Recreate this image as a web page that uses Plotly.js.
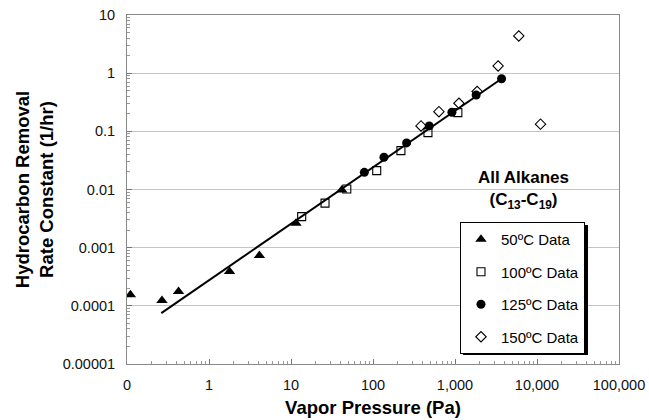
<!DOCTYPE html>
<html>
<head>
<meta charset="utf-8">
<script src="https://cdn.plot.ly/plotly-3.0.1.min.js"></script>
<style>html,body{margin:0;padding:0;background:#fff;}</style>
</head>
<body>
<div id="chart" style="width:649px;height:420px;"></div>
<script>
// Vapor pressure (Pa) and rate constant (1/hr)
const x50 = [0.11, 0.267, 0.425, 1.78, 4.12, 11.5, 41.6];
const y50 = [0.000155, 0.000123, 0.000176, 0.000388, 0.000731, 0.00264, 0.00984];

const x100 = [13.5, 26.0, 47.9, 111, 219, 468, 1084];
const y100 = [0.00342, 0.00582, 0.0102, 0.0211, 0.0466, 0.095, 0.21];

const x125 = [78.4, 136, 257, 485, 917, 1811, 3698];
const y125 = [0.0197, 0.0359, 0.0632, 0.124, 0.213, 0.422, 0.80];

const x150 = [385, 637, 1117, 1862, 3356, 6000, 11040];
const y150 = [0.124, 0.218, 0.304, 0.485, 1.33, 4.36, 0.133];

// fitted trend line end points
const xFit = [0.262, 3698];
const yFit = [0.000075, 0.80];

const xTickVals = [0.1, 1, 10, 100, 1000, 10000, 100000];
const xTickText = ["0", "1", "10", "100", "1,000", "10,000", "100,000"];
const yTickVals = [0.00001, 0.0001, 0.001, 0.01, 0.1, 1, 10];
const yTickText = ["0.00001", "0.0001", "0.001", "0.01", "0.1", "1", "10"];

const seriesNames = ["50\u00baC Data", "100\u00baC Data", "125\u00baC Data", "150\u00baC Data"];

const FONT = "Liberation Sans, Arial, sans-serif";

const traces = [
  {x: xFit, y: yFit, mode: "lines", line: {color: "#000", width: 2}, showlegend: false, hoverinfo: "skip"},
  {x: x50, y: y50, mode: "markers", name: seriesNames[0], legendgroup: "a",
   marker: {symbol: "triangle-up", size: 10, color: "#000"}},
  {x: x100, y: y100, mode: "markers", name: seriesNames[1], legendgroup: "b",
   marker: {symbol: "square-open", size: 8, color: "#000", line: {width: 1.1}}},
  {x: x125, y: y125, mode: "markers", name: seriesNames[2], legendgroup: "c",
   marker: {symbol: "circle", size: 9, color: "#000"}},
  {x: x150, y: y150, mode: "markers", name: seriesNames[3], legendgroup: "d",
   marker: {symbol: "diamond-open", size: 8, color: "#000", line: {width: 1.1}}}
];

const layout = {
  width: 649, height: 420,
  margin: {l: 127, r: 30, t: 15, b: 56},
  paper_bgcolor: "#fff", plot_bgcolor: "#fff",
  font: {family: FONT, color: "#000", size: 14.5},
  showlegend: true,
  xaxis: {
    type: "log", range: [-1, 5],
    tickmode: "array", tickvals: xTickVals, ticktext: xTickText,
    ticks: "inside", ticklen: 5, tickcolor: "#777",
    minor: {ticks: "inside", ticklen: 3, tickcolor: "#999", dtick: "D1", showgrid: false},
    showgrid: false, zeroline: false,
    showline: true, linecolor: "#888", linewidth: 1, mirror: true,
    ticklabelstandoff: 8,
    tickfont: {size: 14.5, family: FONT, color: "#111"},
    title: {text: "<b>Vapor Pressure (Pa)</b>", font: {size: 18.5, family: FONT, color: "#000"}, standoff: 8},
    automargin: false
  },
  yaxis: {
    type: "log", range: [-5, 1],
    tickmode: "array", tickvals: yTickVals, ticktext: yTickText,
    ticks: "inside", ticklen: 5, tickcolor: "#777",
    minor: {ticks: "inside", ticklen: 3, tickcolor: "#999", dtick: "D1", showgrid: false},
    showgrid: true, gridcolor: "#c4c4c4", gridwidth: 1, zeroline: false,
    showline: true, linecolor: "#888", linewidth: 1, mirror: true,
    ticklabelstandoff: 8,
    tickfont: {size: 14.5, family: FONT, color: "#111"},
    title: {text: "<b>Hydrocarbon Removal<br>Rate Constant (1/hr)</b>", font: {size: 18.5, family: FONT, color: "#000"}, standoff: 4},
    automargin: false
  },
  legend: {
    x: 0.6768, y: 0.4069, xanchor: "left", yanchor: "top",
    bgcolor: "#fff", bordercolor: "#000", borderwidth: 1,
    font: {size: 15, family: FONT, color: "#000"},
    tracegroupgap: 10, itemwidth: 30
  },
  annotations: [{
    xref: "paper", yref: "paper", x: 0.805, y: 0.50, xanchor: "center", yanchor: "middle",
    text: "<b>All Alkanes</b><br><b>(C<sub>13</sub>-C<sub>19</sub>)</b>",
    showarrow: false, font: {size: 17, family: FONT, color: "#000"}, align: "center"
  }],
  shapes: [{
    type: "rect", xref: "paper", yref: "paper", layer: "above",
    x0: 0.683, x1: 0.937, y0: 0.0258, y1: 0.398,
    fillcolor: "#000", line: {width: 0}
  }]
};

Plotly.newPlot("chart", traces, layout, {staticPlot: true, displayModeBar: false});
</script>
</body>
</html>
